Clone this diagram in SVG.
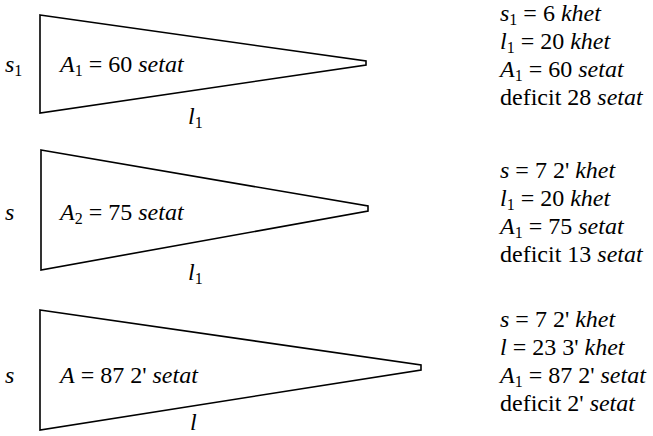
<svg xmlns="http://www.w3.org/2000/svg" width="653" height="436" viewBox="0 0 653 436">
<style>
  .shape { fill: none; stroke: #000; stroke-width: 1.6; stroke-linejoin: miter; }
  .t { font-family: 'Liberation Serif', 'Times New Roman', Times, serif; font-size: 24px; fill: #000; }
  .i { font-style: italic; }
  .sub { font-size: 16px; font-style: normal; }
</style>
<rect width="653" height="436" fill="#fff"/>

<g id="field1" class="t">
  <polygon class="shape" points="40,15 366,61 366,65 40,113"/>
  <text x="5" y="72"><tspan class="i">s</tspan><tspan class="sub" dy="4">1</tspan></text>
  <text x="60" y="72"><tspan class="i">A</tspan><tspan class="sub" dy="4">1</tspan><tspan dy="-4"> = 60 </tspan><tspan class="i">setat</tspan></text>
  <text x="188" y="124"><tspan class="i">l</tspan><tspan class="sub" dy="4">1</tspan></text>
</g>

<g id="field2" class="t">
  <polygon class="shape" points="41,150 368,206 368,211 41,270"/>
  <text x="5" y="220" class="i">s</text>
  <text x="60" y="220"><tspan class="i">A</tspan><tspan class="sub" dy="4">2</tspan><tspan dy="-4"> = 75 </tspan><tspan class="i">setat</tspan></text>
  <text x="188" y="280"><tspan class="i">l</tspan><tspan class="sub" dy="4">1</tspan></text>
</g>

<g id="field3" class="t">
  <polygon class="shape" points="40,310 421,365 421,370 40,430"/>
  <text x="5" y="383" class="i">s</text>
  <text x="60" y="383"><tspan class="i">A</tspan> = 87 2' <tspan class="i">setat</tspan></text>
  <text x="190" y="430" class="i">l</text>
</g>

<g id="data1" class="t">
  <text x="500" y="21"><tspan class="i">s</tspan><tspan class="sub" dy="4">1</tspan><tspan dy="-4"> = 6 </tspan><tspan class="i">khet</tspan></text>
  <text x="500" y="49"><tspan class="i">l</tspan><tspan class="sub" dy="4">1</tspan><tspan dy="-4"> = 20 </tspan><tspan class="i">khet</tspan></text>
  <text x="500" y="77"><tspan class="i">A</tspan><tspan class="sub" dy="4">1</tspan><tspan dy="-4"> = 60 </tspan><tspan class="i">setat</tspan></text>
  <text x="500" y="105">deficit 28 <tspan class="i">setat</tspan></text>
</g>

<g id="data2" class="t">
  <text x="500" y="178"><tspan class="i">s</tspan> = 7 2' <tspan class="i">khet</tspan></text>
  <text x="500" y="206"><tspan class="i">l</tspan><tspan class="sub" dy="4">1</tspan><tspan dy="-4"> = 20 </tspan><tspan class="i">khet</tspan></text>
  <text x="500" y="234"><tspan class="i">A</tspan><tspan class="sub" dy="4">1</tspan><tspan dy="-4"> = 75 </tspan><tspan class="i">setat</tspan></text>
  <text x="500" y="262">deficit 13 <tspan class="i">setat</tspan></text>
</g>

<g id="data3" class="t">
  <text x="500" y="327"><tspan class="i">s</tspan> = 7 2' <tspan class="i">khet</tspan></text>
  <text x="500" y="355"><tspan class="i">l</tspan> = 23 3' <tspan class="i">khet</tspan></text>
  <text x="500" y="383"><tspan class="i">A</tspan><tspan class="sub" dy="4">1</tspan><tspan dy="-4"> = 87 2' </tspan><tspan class="i">setat</tspan></text>
  <text x="500" y="411">deficit 2' <tspan class="i">setat</tspan></text>
</g>
</svg>
